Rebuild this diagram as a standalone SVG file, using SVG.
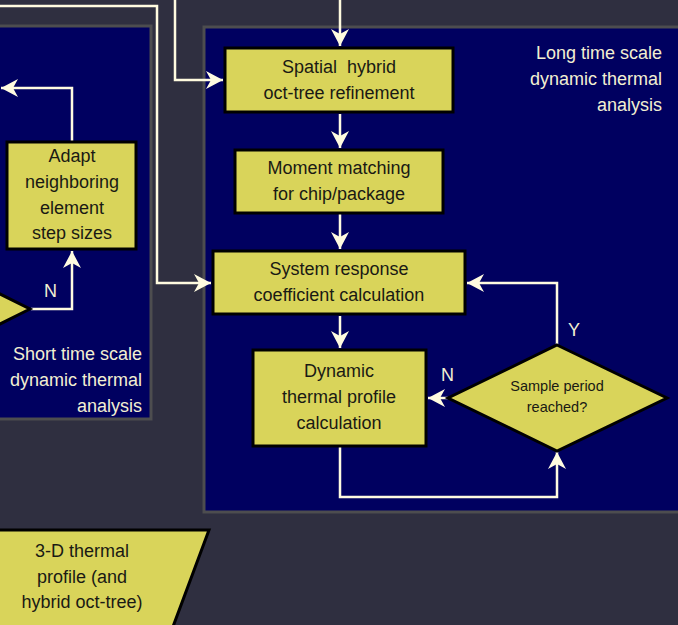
<svg xmlns="http://www.w3.org/2000/svg" width="678" height="625" viewBox="0 0 678 625">
<style>
.box{fill:#d9d45a;stroke:#000;stroke-width:3}
.panel{fill:#000060;stroke:#4d4d4f;stroke-width:3}
.t{font-family:"Liberation Sans",Arial,sans-serif;font-size:18px;fill:#1a1a14;text-anchor:middle}
.ts{font-family:"Liberation Sans",Arial,sans-serif;font-size:14.5px;fill:#1a1a14;text-anchor:middle}
.lbl{font-family:"Liberation Sans",Arial,sans-serif;font-size:18px;fill:#f2efd2}
.c{fill:none;stroke:#fffbe0;stroke-width:2.5}
</style>
<defs>
<marker id="ah" markerUnits="userSpaceOnUse" markerWidth="20" markerHeight="20" viewBox="-18 -10 20 20" refX="0" refY="0" orient="auto">
<path d="M0,0 L-17,-9 L-12,0 L-17,9 Z" fill="#fffbe0"/>
</marker>
</defs>
<rect x="0" y="0" width="678" height="625" fill="#2f2f40"/>
<g id="panel-short">
<rect class="panel" x="-10" y="26" width="161" height="393"/>
<text class="lbl" text-anchor="end" x="142" y="360">Short time scale</text>
<text class="lbl" text-anchor="end" x="142" y="386">dynamic thermal</text>
<text class="lbl" text-anchor="end" x="142" y="412">analysis</text>
</g>
<g id="panel-long">
<rect class="panel" x="204" y="27" width="490" height="485"/>
<text class="lbl" text-anchor="end" x="662" y="59">Long time scale</text>
<text class="lbl" text-anchor="end" x="662" y="85">dynamic thermal</text>
<text class="lbl" text-anchor="end" x="662" y="111">analysis</text>
</g>
<g id="connectors">
<path class="c" d="M0,6 H157 V283 H211" marker-end="url(#ah)"/>
<path class="c" d="M175,0 V80 H223" marker-end="url(#ah)"/>
<path class="c" d="M340,0 V46" marker-end="url(#ah)"/>
<path class="c" d="M340,114 V148" marker-end="url(#ah)"/>
<path class="c" d="M340,214 V249" marker-end="url(#ah)"/>
<path class="c" d="M340,316 V348" marker-end="url(#ah)"/>
<path class="c" d="M557,345 V283 H467" marker-end="url(#ah)"/>
<path class="c" d="M448,398 H428" marker-end="url(#ah)"/>
<path class="c" d="M340,447 V497 H557 V452" marker-end="url(#ah)"/>
<path class="c" d="M72,141 V88 H1" marker-end="url(#ah)"/>
<path class="c" d="M31,309 H72 V251" marker-end="url(#ah)"/>
<text class="lbl" x="44" y="297">N</text>
<text class="lbl" x="568" y="336">Y</text>
<text class="lbl" x="441" y="381">N</text>
</g>
<g id="n-spatial">
<rect class="box" x="225" y="48" width="228" height="64"/>
<text class="t" x="339" y="73">Spatial&#160; hybrid</text>
<text class="t" x="339" y="99">oct-tree refinement</text>
</g>
<g id="n-moment">
<rect class="box" x="235" y="150" width="208" height="63"/>
<text class="t" x="339" y="174">Moment matching</text>
<text class="t" x="339" y="200">for chip/package</text>
</g>
<g id="n-system">
<rect class="box" x="213" y="251" width="252" height="63"/>
<text class="t" x="339" y="275">System response</text>
<text class="t" x="339" y="301">coefficient calculation</text>
</g>
<g id="n-dynamic">
<rect class="box" x="253" y="350" width="173" height="96"/>
<text class="t" x="339" y="377">Dynamic</text>
<text class="t" x="339" y="403">thermal profile</text>
<text class="t" x="339" y="429">calculation</text>
</g>
<g id="n-sample">
<polygon class="box" points="557,345 667,398 557,451 448,398"/>
<text class="ts" x="557" y="391">Sample period</text>
<text class="ts" x="557" y="412">reached?</text>
</g>
<g id="n-adapt">
<rect class="box" x="7" y="142" width="129" height="107"/>
<text class="t" x="72" y="162">Adapt</text>
<text class="t" x="72" y="188">neighboring</text>
<text class="t" x="72" y="214">element</text>
<text class="t" x="72" y="239">step sizes</text>
</g>
<g id="n-decision-left">
<polygon class="box" points="30,309 -50,349 -130,309 -50,269"/>
</g>
<g id="n-output">
<polygon class="box" points="-10,530 209,530 171,632 -10,632"/>
<text class="t" x="82" y="557">3-D thermal</text>
<text class="t" x="82" y="583">profile (and</text>
<text class="t" x="82" y="608">hybrid oct-tree)</text>
</g>
</svg>
